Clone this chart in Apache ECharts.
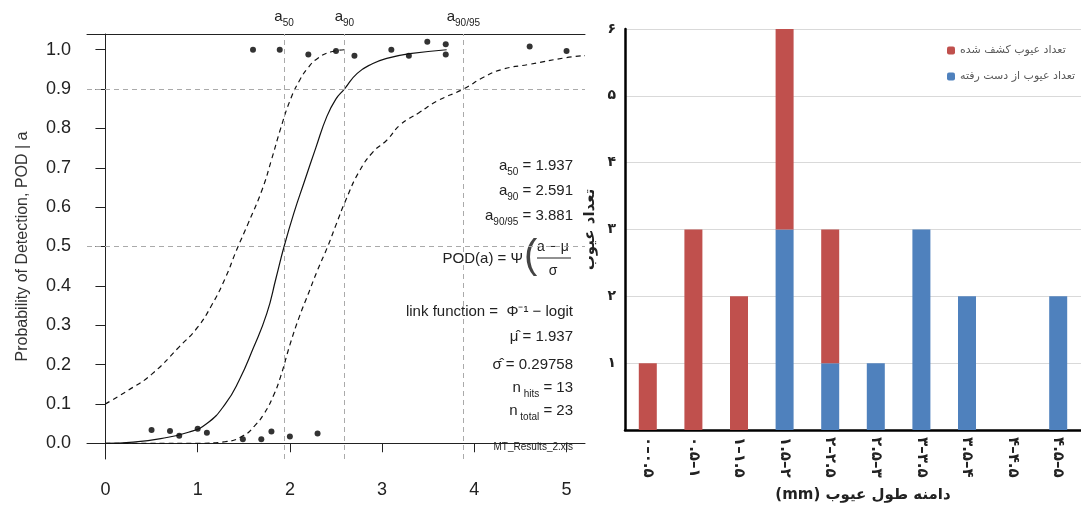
<!DOCTYPE html>
<html>
<head>
<meta charset="utf-8">
<script src="https://cdn.jsdelivr.net/npm/echarts@6.0.0/dist/echarts.min.js"></script>
<style>
  html, body { margin: 0; padding: 0; background: #fff; }
  #chart { width: 1081px; height: 508px; }
</style>
</head>
<body>
<div id="chart"></div>
<script>
// left panel: POD curve (hit/miss data)
const hitPoints = [[1.6, 1.0], [1.89, 1.0], [2.2, 0.988], [2.5, 0.997], [2.7, 0.985], [3.1, 1.0],
  [3.29, 0.985], [3.49, 1.02], [3.69, 1.014], [3.69, 0.988], [4.6, 1.008], [5.0, 0.997]];
const missPoints = [[0.5, 0.034], [0.7, 0.031], [0.8, 0.019], [1.0, 0.037], [1.1, 0.027],
  [1.49, 0.01], [1.69, 0.01], [1.8, 0.03], [2.0, 0.017], [2.3, 0.025]];
const podCurve = [[0, 0.0], [0.3, 0.003], [0.6, 0.012], [0.9, 0.028], [1.1, 0.05], [1.3, 0.1],
  [1.45, 0.16], [1.6, 0.24], [1.75, 0.33], [1.85, 0.42], [1.937, 0.5], [2.05, 0.59], [2.15, 0.66],
  [2.28, 0.75], [2.4, 0.83], [2.5, 0.875], [2.591, 0.9], [2.73, 0.94], [2.9, 0.965], [3.05, 0.978],
  [3.3, 0.99], [3.7, 1.0]];
const upperBound = [[0, 0.1], [0.25, 0.135], [0.5, 0.175], [0.8, 0.245], [1.0, 0.295], [1.15, 0.35],
  [1.3, 0.42], [1.42, 0.49], [1.55, 0.56], [1.7, 0.645], [1.8, 0.72], [1.9, 0.8], [2.0, 0.87],
  [2.1, 0.92], [2.2, 0.955], [2.3, 0.978], [2.45, 0.995], [2.6, 1.0]];
const lowerBound = [[0, 0.0], [0.5, 0.0], [1.0, 0.0], [1.3, 0.004], [1.5, 0.02], [1.62, 0.045],
  [1.72, 0.075], [1.82, 0.12], [1.9, 0.17], [2.0, 0.25], [2.1, 0.32], [2.2, 0.38], [2.3, 0.44],
  [2.41, 0.5], [2.5, 0.555], [2.61, 0.62], [2.75, 0.69], [2.9, 0.74], [3.05, 0.77], [3.2, 0.81],
  [3.4, 0.84], [3.6, 0.87], [3.881, 0.9], [4.1, 0.93], [4.3, 0.95], [4.6, 0.963], [5.0, 0.98], [5.2, 0.985]];
const thresholds = [1.937, 2.591, 3.881];
const thresholdNames = ['50', '90', '90/95'];
const refLevels = [0.5, 0.9];
const podTicks = [0, 0.1, 0.2, 0.3, 0.4, 0.5, 0.6, 0.7, 0.8, 0.9, 1.0];
const sizeTicks = [0, 1, 2, 3, 4, 5];

// right panel: defects per length range
const rangeLabels = ['۰–۰.۵', '۰.۵–۱', '۱–۱.۵', '۱.۵–۲', '۲–۲.۵', '۲.۵–۳', '۳–۳.۵', '۳.۵–۴', '۴–۴.۵', '۴.۵–۵'];
const detected = [1, 3, 2, 3, 2, 0, 0, 0, 0, 0];
const missed = [0, 0, 0, 3, 1, 1, 3, 2, 0, 2];
const detectedName = 'تعداد عیوب کشف شده';
const missedName = 'تعداد عیوب از دست رفته';

const latin = '"Liberation Sans", Arial, sans-serif';
const farsi = '"DejaVu Sans", sans-serif';
const toFa = v => String(v).replace(/\d/g, d => '۰۱۲۳۴۵۶۷۸۹'[d]);

const subRich = {
  m: { fontFamily: latin, fontSize: 15, color: '#222', verticalAlign: 'top', lineHeight: 19 },
  s: { fontFamily: latin, fontSize: 10, color: '#222', verticalAlign: 'bottom', lineHeight: 12 }
};

const chart = echarts.init(document.getElementById('chart'));

const annText = (text, y, size) => ({
  type: 'text', x: 573, y: y,
  style: { text: text, rich: subRich, font: (size || 15) + 'px ' + latin, fill: '#222',
    align: 'right', verticalAlign: 'middle' }
});

const option = {
  backgroundColor: '#fff',
  animation: false,
  grid: [
    { left: 87, top: 34, width: 498, height: 425, outerBoundsMode: 'none' },
    { left: 625, top: 29, right: 0, bottom: 78, outerBoundsMode: 'none' }
  ],
  legend: {
    data: [detectedName, missedName],
    orient: 'vertical', left: 942, top: 40,
    itemWidth: 8, itemHeight: 8, itemGap: 15,
    textStyle: { fontFamily: farsi, fontSize: 11, color: '#595959' }
  },
  xAxis: [
    {
      gridIndex: 0, type: 'value', min: -0.2, max: 5.2,
      axisLine: { show: true, lineStyle: { color: '#222' } },
      axisTick: { show: true, length: 9, customValues: sizeTicks, lineStyle: { color: '#222' } },
      axisLabel: { customValues: sizeTicks, margin: 22, fontSize: 18, fontFamily: latin, color: '#222' },
      splitLine: { show: false }
    },
    {
      gridIndex: 0, type: 'value', position: 'top', min: -0.2, max: 5.2,
      axisLine: { show: true, lineStyle: { color: '#222' } },
      axisTick: { show: false },
      axisLabel: {
        customValues: thresholds, margin: 6,
        formatter: v => '{m|a}{s|' + thresholdNames[thresholds.indexOf(v)] + '}',
        rich: subRich
      },
      splitLine: { show: false }
    },
    {
      gridIndex: 1, type: 'category', data: rangeLabels,
      axisLine: { lineStyle: { color: '#000', width: 2.5 } },
      axisTick: { show: false },
      axisLabel: { rotate: -90, margin: 7, fontFamily: farsi, fontSize: 15, fontWeight: 'bold', color: '#222' },
      name: '(mm) دامنه طول عیوب', nameLocation: 'middle', nameGap: 58, nameMoveOverlap: false,
      nameTextStyle: { fontFamily: farsi, fontSize: 15, fontWeight: 'bold', color: '#222', padding: [0, 0, 0, 20] }
    }
  ],
  yAxis: [
    {
      gridIndex: 0, type: 'value', min: -0.04, max: 1.04,
      axisLine: { show: true, lineStyle: { color: '#222' } },
      axisTick: { show: true, length: 10, customValues: podTicks, lineStyle: { color: '#222' } },
      axisLabel: { customValues: podTicks, formatter: v => v.toFixed(1), margin: 16,
        fontSize: 18, fontFamily: latin, color: '#222' },
      splitLine: { show: false },
      name: 'Probability of Detection, POD | a', nameLocation: 'middle', nameGap: 56,
      nameTextStyle: { fontFamily: latin, fontSize: 16, color: '#333' }
    },
    {
      gridIndex: 1, type: 'value', min: 0, max: 6, interval: 1,
      axisLine: { show: true, lineStyle: { color: '#000', width: 2.5 } },
      axisTick: { show: false },
      axisLabel: { formatter: v => (v === 0 ? '' : toFa(v)), margin: 9,
        fontFamily: farsi, fontSize: 14, fontWeight: 'bold', color: '#222' },
      splitLine: { lineStyle: { color: '#d9d9d9' } },
      name: 'تعداد عیوب', nameLocation: 'middle', nameGap: 27,
      nameTextStyle: { fontFamily: farsi, fontSize: 15, fontWeight: 'bold', color: '#222' }
    }
  ],
  series: [
    {
      type: 'line', xAxisIndex: 0, yAxisIndex: 0, data: podCurve, smooth: true,
      showSymbol: false, lineStyle: { color: '#111', width: 1.2 },
      markLine: {
        silent: true, symbol: 'none', label: { show: false },
        lineStyle: { color: '#aaa', type: [5, 4], width: 1 },
        data: thresholds.map(v => ({ xAxis: v })).concat(refLevels.map(v => ({ yAxis: v })))
      }
    },
    {
      type: 'line', xAxisIndex: 0, yAxisIndex: 0, data: upperBound, smooth: true,
      showSymbol: false, lineStyle: { color: '#111', width: 1.2, type: [5, 4] }
    },
    {
      type: 'line', xAxisIndex: 0, yAxisIndex: 0, data: lowerBound, smooth: true,
      showSymbol: false, lineStyle: { color: '#111', width: 1.2, type: [5, 4] }
    },
    {
      type: 'scatter', xAxisIndex: 0, yAxisIndex: 0, data: hitPoints.concat(missPoints),
      symbolSize: 6, itemStyle: { color: '#000' }
    },
    {
      name: missedName, type: 'bar', stack: 'defects', xAxisIndex: 2, yAxisIndex: 1,
      data: missed, barWidth: 18, itemStyle: { color: '#4F81BD' }
    },
    {
      name: detectedName, type: 'bar', stack: 'defects', xAxisIndex: 2, yAxisIndex: 1,
      data: detected, barWidth: 18, itemStyle: { color: '#C0504D' }
    }
  ],
  graphic: [
    annText('{m|a}{s|50}{m| = ' + thresholds[0].toFixed(3) + '}', 168),
    annText('{m|a}{s|90}{m| = ' + thresholds[1].toFixed(3) + '}', 193),
    annText('{m|a}{s|90/95}{m| = ' + thresholds[2].toFixed(3) + '}', 218),
    { type: 'text', x: 523, y: 259,
      style: { text: 'POD(a) = Ψ', font: '15px ' + latin, fill: '#222', align: 'right', verticalAlign: 'middle' } },
    { type: 'text', x: 524, y: 257,
      style: { text: '(', font: '300 40px ' + latin, fill: '#444', align: 'left', verticalAlign: 'middle' } },
    { type: 'text', x: 553, y: 247,
      style: { text: 'a − μ', font: '14px ' + latin, fill: '#222', align: 'center', verticalAlign: 'middle' } },
    { type: 'line', shape: { x1: 537, y1: 258, x2: 571, y2: 258 }, style: { stroke: '#222', lineWidth: 1 } },
    { type: 'text', x: 553, y: 271,
      style: { text: 'σ', font: '14px ' + latin, fill: '#222', align: 'center', verticalAlign: 'middle' } },
    annText('link function =  Φ⁻¹ − logit', 312),
    annText('μ̂ = 1.937', 337),
    annText('σ̂ = 0.29758', 365),
    annText('{m|n}{s| hits}{m| = 13}', 390),
    annText('{m|n}{s| total}{m| = 23}', 413),
    annText('MT_Results_2.xls', 447, 10)
  ]
};

chart.setOption(option);
window.addEventListener('resize', () => chart.resize());
</script>
</body>
</html>
